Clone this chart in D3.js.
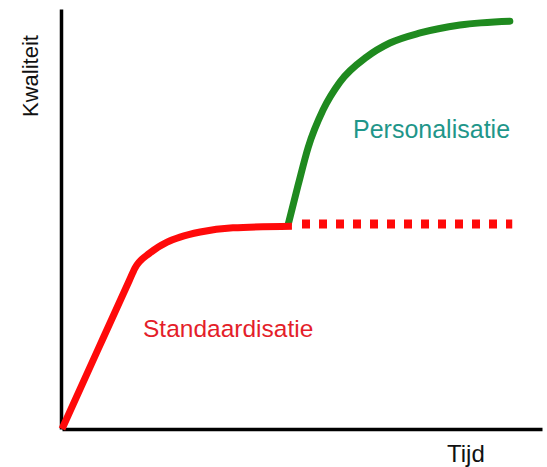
<!DOCTYPE html>
<html>
<head>
<meta charset="utf-8">
<script src="https://cdn.jsdelivr.net/npm/d3@7"></script>
<style>
  body { margin: 0; background: #fff; }
  text { font-family: "Liberation Sans", Arial, sans-serif; }
</style>
</head>
<body>
<script>
// curve points (time, quality), both on a 0..10 scale
const standardX = [0, 0.76, 1.40, 1.52, 1.83, 2.19, 2.46, 2.88, 3.56, 4.79];
const standardY = [0, 1.92, 3.53, 3.83, 4.19, 4.45, 4.57, 4.69, 4.79, 4.83];

const plateauX = [5.0, 9.38];
const plateauY = [4.88, 4.88];

const personalX = [4.71, 4.92, 5.13, 5.44, 5.79, 6.35, 6.83, 7.46, 8.29, 9.33];
const personalY = [4.86, 5.81, 6.71, 7.60, 8.26, 8.86, 9.19, 9.43, 9.62, 9.71];

const axisTitles = ["Tijd", "Kwaliteit"];
const curveLabels = ["Standaardisatie", "Personalisatie"];

const canvWidth = 547, canvHeight = 467;

const svg = d3.select("body").append("svg")
    .attr("width", canvWidth)
    .attr("height", canvHeight);

// scales: pixel ranges match the drawn axes
const x = d3.scaleLinear().domain([0, 10]).range([62, 542]);
const y = d3.scaleLinear().domain([0, 10]).range([429, 9]);

const line = d3.line()
    .x(d => x(d[0]))
    .y(d => y(d[1]))
    .curve(d3.curveMonotoneX);

// axes without ticks, just heavy black lines
svg.append("g")
    .attr("transform", `translate(0,${y(0)})`)
    .call(d3.axisBottom(x).ticks(0).tickSizeOuter(0))
    .call(g => g.select(".domain").attr("stroke", "#000").attr("stroke-width", 3.5));

svg.append("g")
    .attr("transform", `translate(${x(0) - 1},0)`)
    .call(d3.axisLeft(y).ticks(0).tickSizeOuter(0))
    .call(g => g.select(".domain").attr("stroke", "#000").attr("stroke-width", 3.5));

// green personalisation curve (drawn under the red one)
svg.append("path")
    .datum(d3.zip(personalX, personalY))
    .attr("fill", "none")
    .attr("stroke", "#1f8a1f")
    .attr("stroke-width", 7)
    .attr("stroke-linecap", "round")
    .attr("d", line);

// red standardisation curve
svg.append("path")
    .datum(d3.zip(standardX, standardY))
    .attr("fill", "none")
    .attr("stroke", "#ff0a0a")
    .attr("stroke-width", 7)
    .attr("stroke-linejoin", "round")
    .attr("d", line);

// dotted continuation of the plateau
svg.append("path")
    .datum(d3.zip(plateauX, plateauY))
    .attr("fill", "none")
    .attr("stroke", "#ff0a0a")
    .attr("stroke-width", 9)
    .attr("stroke-dasharray", "8,9")
    .attr("d", d3.line().x(d => x(d[0])).y(d => y(d[1])));

// axis titles
svg.append("text")
    .attr("x", 447)
    .attr("y", 462)
    .attr("font-size", "24px")
    .attr("fill", "#111")
    .text(axisTitles[0]);

svg.append("text")
    .attr("transform", "translate(38,76) rotate(-90)")
    .attr("text-anchor", "middle")
    .attr("font-size", "22px")
    .attr("fill", "#111")
    .text(axisTitles[1]);

// curve labels
svg.append("text")
    .attr("x", 143)
    .attr("y", 337)
    .attr("font-size", "24.5px")
    .attr("fill", "#e41e2a")
    .text(curveLabels[0]);

svg.append("text")
    .attr("x", 353)
    .attr("y", 138)
    .attr("font-size", "25px")
    .attr("fill", "#1f968a")
    .text(curveLabels[1]);
</script>
</body>
</html>
